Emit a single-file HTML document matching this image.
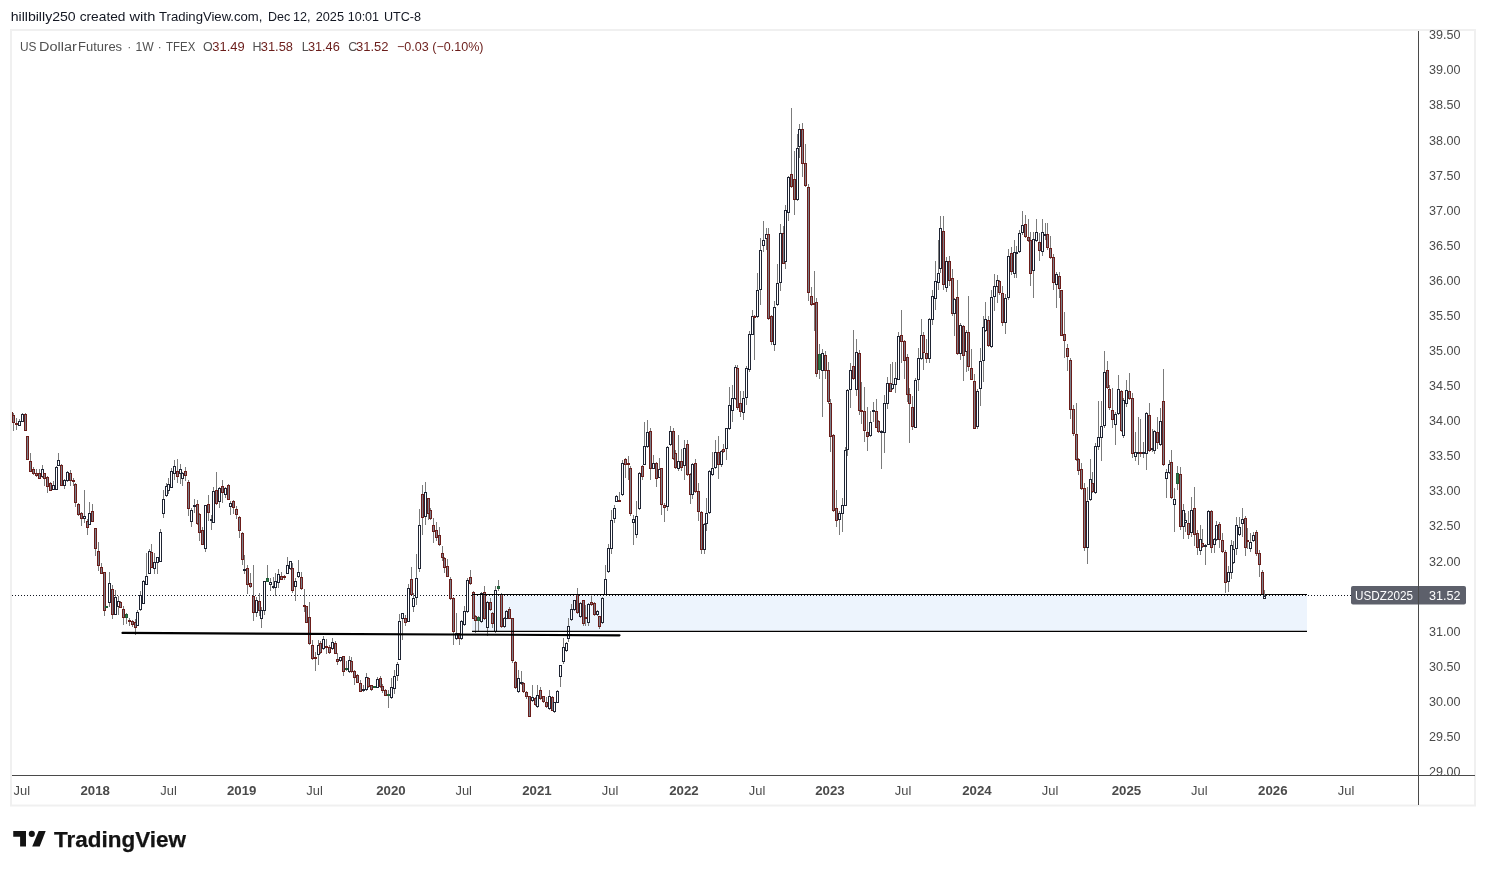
<!DOCTYPE html><html><head><meta charset="utf-8"><style>
html,body{margin:0;padding:0;background:#fff;width:1486px;height:872px;overflow:hidden}
svg{position:absolute;left:0;top:0;display:block;will-change:transform}
text{font-family:"Liberation Sans",sans-serif}
</style></head><body>
<svg width="1486" height="872" viewBox="0 0 1486 872">
<rect x="0" y="0" width="1486" height="872" fill="#ffffff"/>
<text x="10.7" y="21.0" font-size="13" fill="#131722" textLength="65.0" lengthAdjust="spacingAndGlyphs">hillbilly250</text>
<text x="79.7" y="21.0" font-size="13" fill="#131722" textLength="45.8" lengthAdjust="spacingAndGlyphs">created</text>
<text x="129.4" y="21.0" font-size="13" fill="#131722" textLength="26.0" lengthAdjust="spacingAndGlyphs">with</text>
<text x="159.0" y="21.0" font-size="13" fill="#131722" textLength="103.4" lengthAdjust="spacingAndGlyphs">TradingView.com,</text>
<text x="268.1" y="21.0" font-size="13" fill="#131722" textLength="22.2" lengthAdjust="spacingAndGlyphs">Dec</text>
<text x="293.1" y="21.0" font-size="13" fill="#131722" textLength="17.5" lengthAdjust="spacingAndGlyphs">12,</text>
<text x="315.7" y="21.0" font-size="13" fill="#131722" textLength="28.3" lengthAdjust="spacingAndGlyphs">2025</text>
<text x="347.7" y="21.0" font-size="13" fill="#131722" textLength="31.4" lengthAdjust="spacingAndGlyphs">10:01</text>
<text x="383.9" y="21.0" font-size="13" fill="#131722" textLength="37.1" lengthAdjust="spacingAndGlyphs">UTC-8</text>
<rect x="11" y="30" width="1464" height="775.5" fill="none" stroke="#f0f0f0" stroke-width="2"/>
<defs><clipPath id="pane"><rect x="12" y="31" width="1406" height="744"/></clipPath></defs>
<g clip-path="url(#pane)">
<rect x="472" y="596" width="835" height="34.5" fill="#edf4fd"/>
<line x1="12" y1="595.5" x2="1351" y2="595.5" stroke="#131722" stroke-width="1" stroke-dasharray="1 2"/>
<g fill="#7b7b7b" shape-rendering="crispEdges">
<rect x="11" y="411" width="1" height="13"/><rect x="13" y="413" width="1" height="18"/><rect x="16" y="418" width="1" height="12"/><rect x="19" y="419" width="1" height="7"/><rect x="22" y="413" width="1" height="9"/><rect x="25" y="413" width="1" height="18"/><rect x="27" y="436" width="1" height="24"/><rect x="30" y="453" width="1" height="19"/><rect x="33" y="467" width="1" height="8"/><rect x="36" y="469" width="1" height="8"/><rect x="39" y="469" width="1" height="10"/><rect x="42" y="465" width="1" height="13"/><rect x="44" y="473" width="1" height="13"/><rect x="47" y="476" width="1" height="17"/><rect x="50" y="482" width="1" height="9"/><rect x="53" y="481" width="1" height="9"/><rect x="56" y="466" width="1" height="24"/><rect x="58" y="453" width="1" height="13"/><rect x="61" y="464" width="1" height="22"/><rect x="64" y="479" width="1" height="10"/><rect x="67" y="471" width="1" height="11"/><rect x="70" y="470" width="1" height="16"/><rect x="73" y="478" width="1" height="8"/><rect x="75" y="483" width="1" height="24"/><rect x="78" y="503" width="1" height="13"/><rect x="81" y="512" width="1" height="14"/><rect x="84" y="490" width="1" height="33"/><rect x="87" y="519" width="1" height="16"/><rect x="89" y="502" width="1" height="23"/><rect x="92" y="504" width="1" height="18"/><rect x="95" y="528" width="1" height="28"/><rect x="98" y="542" width="1" height="29"/><rect x="101" y="563" width="1" height="11"/><rect x="104" y="572" width="1" height="44"/><rect x="106" y="606" width="1" height="2"/><rect x="109" y="572" width="1" height="35"/><rect x="112" y="585" width="1" height="34"/><rect x="115" y="590" width="1" height="25"/><rect x="118" y="596" width="1" height="19"/><rect x="120" y="601" width="1" height="7"/><rect x="123" y="606" width="1" height="19"/><rect x="126" y="613" width="1" height="11"/><rect x="129" y="618" width="1" height="8"/><rect x="132" y="620" width="1" height="7"/><rect x="135" y="619" width="1" height="16"/><rect x="137" y="610" width="1" height="16"/><rect x="140" y="591" width="1" height="20"/><rect x="143" y="580" width="1" height="24"/><rect x="146" y="553" width="1" height="32"/><rect x="149" y="549" width="1" height="25"/><rect x="151" y="544" width="1" height="24"/><rect x="154" y="553" width="1" height="21"/><rect x="157" y="557" width="1" height="17"/><rect x="160" y="529" width="1" height="33"/><rect x="163" y="490" width="1" height="28"/><rect x="166" y="483" width="1" height="14"/><rect x="168" y="478" width="1" height="16"/><rect x="171" y="468" width="1" height="20"/><rect x="174" y="460" width="1" height="20"/><rect x="177" y="459" width="1" height="24"/><rect x="180" y="464" width="1" height="20"/><rect x="182" y="472" width="1" height="14"/><rect x="185" y="467" width="1" height="14"/><rect x="188" y="480" width="1" height="36"/><rect x="191" y="508" width="1" height="19"/><rect x="194" y="499" width="1" height="14"/><rect x="197" y="500" width="1" height="25"/><rect x="199" y="513" width="1" height="28"/><rect x="202" y="527" width="1" height="18"/><rect x="205" y="505" width="1" height="47"/><rect x="208" y="495" width="1" height="26"/><rect x="211" y="515" width="1" height="15"/><rect x="213" y="487" width="1" height="36"/><rect x="216" y="472" width="1" height="33"/><rect x="219" y="487" width="1" height="21"/><rect x="222" y="480" width="1" height="23"/><rect x="225" y="487" width="1" height="11"/><rect x="228" y="484" width="1" height="16"/><rect x="230" y="501" width="1" height="14"/><rect x="233" y="500" width="1" height="14"/><rect x="236" y="506" width="1" height="13"/><rect x="239" y="516" width="1" height="22"/><rect x="242" y="532" width="1" height="33"/><rect x="244" y="555" width="1" height="19"/><rect x="247" y="565" width="1" height="29"/><rect x="250" y="573" width="1" height="15"/><rect x="253" y="565" width="1" height="56"/><rect x="256" y="597" width="1" height="20"/><rect x="259" y="593" width="1" height="23"/><rect x="261" y="607" width="1" height="21"/><rect x="264" y="581" width="1" height="34"/><rect x="267" y="565" width="1" height="17"/><rect x="270" y="578" width="1" height="13"/><rect x="273" y="577" width="1" height="12"/><rect x="275" y="573" width="1" height="23"/><rect x="278" y="569" width="1" height="19"/><rect x="281" y="572" width="1" height="8"/><rect x="284" y="575" width="1" height="5"/><rect x="287" y="557" width="1" height="17"/><rect x="290" y="561" width="1" height="9"/><rect x="292" y="563" width="1" height="30"/><rect x="295" y="578" width="1" height="23"/><rect x="298" y="560" width="1" height="18"/><rect x="301" y="572" width="1" height="18"/><rect x="304" y="589" width="1" height="23"/><rect x="306" y="606" width="1" height="17"/><rect x="309" y="602" width="1" height="43"/><rect x="312" y="640" width="1" height="20"/><rect x="315" y="652" width="1" height="19"/><rect x="318" y="640" width="1" height="25"/><rect x="320" y="641" width="1" height="13"/><rect x="323" y="636" width="1" height="14"/><rect x="326" y="639" width="1" height="15"/><rect x="329" y="645" width="1" height="9"/><rect x="332" y="638" width="1" height="12"/><rect x="335" y="641" width="1" height="13"/><rect x="337" y="653" width="1" height="12"/><rect x="340" y="657" width="1" height="5"/><rect x="343" y="656" width="1" height="20"/><rect x="346" y="661" width="1" height="10"/><rect x="349" y="656" width="1" height="17"/><rect x="351" y="657" width="1" height="16"/><rect x="354" y="670" width="1" height="15"/><rect x="357" y="674" width="1" height="9"/><rect x="360" y="680" width="1" height="12"/><rect x="363" y="685" width="1" height="7"/><rect x="366" y="673" width="1" height="18"/><rect x="368" y="677" width="1" height="11"/><rect x="371" y="685" width="1" height="6"/><rect x="374" y="686" width="1" height="2"/><rect x="377" y="677" width="1" height="11"/><rect x="380" y="676" width="1" height="12"/><rect x="382" y="684" width="1" height="9"/><rect x="385" y="689" width="1" height="7"/><rect x="388" y="690" width="1" height="18"/><rect x="391" y="678" width="1" height="21"/><rect x="394" y="670" width="1" height="24"/><rect x="397" y="662" width="1" height="19"/><rect x="399" y="614" width="1" height="46"/><rect x="402" y="613" width="1" height="27"/><rect x="405" y="615" width="1" height="11"/><rect x="408" y="584" width="1" height="38"/><rect x="411" y="567" width="1" height="28"/><rect x="413" y="593" width="1" height="19"/><rect x="416" y="554" width="1" height="51"/><rect x="419" y="509" width="1" height="63"/><rect x="422" y="485" width="1" height="50"/><rect x="425" y="482" width="1" height="43"/><rect x="428" y="498" width="1" height="22"/><rect x="430" y="508" width="1" height="12"/><rect x="433" y="518" width="1" height="25"/><rect x="436" y="522" width="1" height="19"/><rect x="439" y="527" width="1" height="19"/><rect x="442" y="546" width="1" height="15"/><rect x="444" y="557" width="1" height="16"/><rect x="447" y="559" width="1" height="18"/><rect x="450" y="577" width="1" height="23"/><rect x="453" y="597" width="1" height="48"/><rect x="456" y="613" width="1" height="27"/><rect x="459" y="633" width="1" height="12"/><rect x="461" y="620" width="1" height="20"/><rect x="464" y="606" width="1" height="20"/><rect x="467" y="578" width="1" height="35"/><rect x="470" y="570" width="1" height="15"/><rect x="473" y="591" width="1" height="28"/><rect x="475" y="615" width="1" height="18"/><rect x="478" y="616" width="1" height="15"/><rect x="481" y="592" width="1" height="31"/><rect x="484" y="586" width="1" height="34"/><rect x="487" y="601" width="1" height="35"/><rect x="490" y="598" width="1" height="13"/><rect x="492" y="612" width="1" height="16"/><rect x="495" y="586" width="1" height="47"/><rect x="498" y="580" width="1" height="11"/><rect x="501" y="593" width="1" height="35"/><rect x="504" y="617" width="1" height="11"/><rect x="506" y="610" width="1" height="9"/><rect x="509" y="607" width="1" height="12"/><rect x="512" y="618" width="1" height="45"/><rect x="515" y="661" width="1" height="28"/><rect x="518" y="670" width="1" height="23"/><rect x="521" y="671" width="1" height="14"/><rect x="523" y="682" width="1" height="11"/><rect x="526" y="691" width="1" height="8"/><rect x="529" y="696" width="1" height="21"/><rect x="532" y="685" width="1" height="17"/><rect x="535" y="697" width="1" height="9"/><rect x="537" y="685" width="1" height="23"/><rect x="540" y="687" width="1" height="13"/><rect x="543" y="696" width="1" height="7"/><rect x="546" y="697" width="1" height="11"/><rect x="549" y="690" width="1" height="20"/><rect x="552" y="696" width="1" height="15"/><rect x="554" y="702" width="1" height="11"/><rect x="557" y="690" width="1" height="13"/><rect x="560" y="665" width="1" height="22"/><rect x="563" y="638" width="1" height="26"/><rect x="566" y="642" width="1" height="10"/><rect x="568" y="618" width="1" height="24"/><rect x="571" y="604" width="1" height="17"/><rect x="574" y="600" width="1" height="11"/><rect x="577" y="588" width="1" height="26"/><rect x="580" y="602" width="1" height="16"/><rect x="583" y="600" width="1" height="26"/><rect x="585" y="605" width="1" height="21"/><rect x="588" y="603" width="1" height="23"/><rect x="591" y="594" width="1" height="12"/><rect x="594" y="602" width="1" height="14"/><rect x="597" y="610" width="1" height="6"/><rect x="599" y="616" width="1" height="13"/><rect x="602" y="597" width="1" height="27"/><rect x="605" y="565" width="1" height="30"/><rect x="608" y="544" width="1" height="29"/><rect x="611" y="510" width="1" height="44"/><rect x="614" y="505" width="1" height="18"/><rect x="616" y="495" width="1" height="7"/><rect x="619" y="492" width="1" height="10"/><rect x="622" y="460" width="1" height="36"/><rect x="625" y="458" width="1" height="20"/><rect x="628" y="456" width="1" height="24"/><rect x="630" y="466" width="1" height="50"/><rect x="633" y="515" width="1" height="30"/><rect x="636" y="501" width="1" height="37"/><rect x="639" y="472" width="1" height="38"/><rect x="642" y="465" width="1" height="15"/><rect x="644" y="422" width="1" height="43"/><rect x="647" y="420" width="1" height="28"/><rect x="650" y="428" width="1" height="52"/><rect x="653" y="455" width="1" height="14"/><rect x="656" y="462" width="1" height="25"/><rect x="659" y="458" width="1" height="20"/><rect x="661" y="468" width="1" height="47"/><rect x="664" y="503" width="1" height="19"/><rect x="667" y="446" width="1" height="65"/><rect x="670" y="426" width="1" height="20"/><rect x="673" y="428" width="1" height="32"/><rect x="675" y="450" width="1" height="19"/><rect x="678" y="435" width="1" height="36"/><rect x="681" y="449" width="1" height="22"/><rect x="684" y="440" width="1" height="40"/><rect x="687" y="440" width="1" height="36"/><rect x="690" y="473" width="1" height="31"/><rect x="692" y="463" width="1" height="36"/><rect x="695" y="459" width="1" height="34"/><rect x="698" y="483" width="1" height="38"/><rect x="701" y="511" width="1" height="43"/><rect x="704" y="523" width="1" height="31"/><rect x="706" y="498" width="1" height="33"/><rect x="709" y="470" width="1" height="44"/><rect x="712" y="452" width="1" height="24"/><rect x="715" y="440" width="1" height="29"/><rect x="718" y="436" width="1" height="43"/><rect x="721" y="450" width="1" height="17"/><rect x="723" y="444" width="1" height="9"/><rect x="726" y="428" width="1" height="32"/><rect x="729" y="387" width="1" height="43"/><rect x="732" y="385" width="1" height="37"/><rect x="735" y="365" width="1" height="35"/><rect x="737" y="365" width="1" height="45"/><rect x="740" y="391" width="1" height="26"/><rect x="743" y="391" width="1" height="29"/><rect x="746" y="366" width="1" height="39"/><rect x="749" y="331" width="1" height="41"/><rect x="752" y="310" width="1" height="25"/><rect x="754" y="315" width="1" height="45"/><rect x="757" y="273" width="1" height="45"/><rect x="760" y="238" width="1" height="67"/><rect x="763" y="221" width="1" height="31"/><rect x="766" y="228" width="1" height="22"/><rect x="768" y="228" width="1" height="92"/><rect x="771" y="315" width="1" height="30"/><rect x="774" y="301" width="1" height="50"/><rect x="777" y="264" width="1" height="42"/><rect x="780" y="224" width="1" height="67"/><rect x="783" y="226" width="1" height="38"/><rect x="785" y="205" width="1" height="64"/><rect x="788" y="176" width="1" height="45"/><rect x="791" y="108" width="1" height="80"/><rect x="794" y="151" width="1" height="64"/><rect x="797" y="134" width="1" height="67"/><rect x="799" y="124" width="1" height="34"/><rect x="802" y="123" width="1" height="54"/><rect x="805" y="144" width="1" height="43"/><rect x="808" y="184" width="1" height="117"/><rect x="811" y="287" width="1" height="19"/><rect x="814" y="271" width="1" height="60"/><rect x="816" y="298" width="1" height="79"/><rect x="819" y="344" width="1" height="35"/><rect x="822" y="349" width="1" height="68"/><rect x="825" y="351" width="1" height="28"/><rect x="828" y="362" width="1" height="42"/><rect x="830" y="399" width="1" height="53"/><rect x="833" y="434" width="1" height="78"/><rect x="836" y="490" width="1" height="37"/><rect x="839" y="511" width="1" height="24"/><rect x="842" y="498" width="1" height="34"/><rect x="845" y="447" width="1" height="59"/><rect x="847" y="389" width="1" height="67"/><rect x="850" y="363" width="1" height="45"/><rect x="853" y="330" width="1" height="50"/><rect x="856" y="339" width="1" height="57"/><rect x="859" y="350" width="1" height="65"/><rect x="861" y="382" width="1" height="42"/><rect x="864" y="387" width="1" height="55"/><rect x="867" y="407" width="1" height="44"/><rect x="870" y="411" width="1" height="26"/><rect x="873" y="402" width="1" height="20"/><rect x="876" y="399" width="1" height="29"/><rect x="878" y="420" width="1" height="13"/><rect x="881" y="430" width="1" height="39"/><rect x="884" y="395" width="1" height="58"/><rect x="887" y="377" width="1" height="32"/><rect x="890" y="364" width="1" height="28"/><rect x="892" y="362" width="1" height="28"/><rect x="895" y="362" width="1" height="31"/><rect x="898" y="332" width="1" height="48"/><rect x="901" y="310" width="1" height="53"/><rect x="904" y="340" width="1" height="39"/><rect x="907" y="354" width="1" height="48"/><rect x="909" y="388" width="1" height="55"/><rect x="912" y="396" width="1" height="34"/><rect x="915" y="378" width="1" height="50"/><rect x="918" y="348" width="1" height="43"/><rect x="921" y="319" width="1" height="41"/><rect x="923" y="332" width="1" height="38"/><rect x="926" y="339" width="1" height="24"/><rect x="929" y="318" width="1" height="45"/><rect x="932" y="290" width="1" height="35"/><rect x="935" y="261" width="1" height="49"/><rect x="938" y="240" width="1" height="50"/><rect x="940" y="216" width="1" height="57"/><rect x="943" y="216" width="1" height="74"/><rect x="946" y="257" width="1" height="35"/><rect x="949" y="256" width="1" height="30"/><rect x="952" y="269" width="1" height="47"/><rect x="954" y="298" width="1" height="38"/><rect x="957" y="280" width="1" height="75"/><rect x="960" y="323" width="1" height="37"/><rect x="963" y="325" width="1" height="56"/><rect x="966" y="330" width="1" height="42"/><rect x="968" y="296" width="1" height="75"/><rect x="971" y="349" width="1" height="31"/><rect x="974" y="374" width="1" height="55"/><rect x="977" y="389" width="1" height="40"/><rect x="980" y="348" width="1" height="58"/><rect x="983" y="316" width="1" height="66"/><rect x="985" y="302" width="1" height="30"/><rect x="988" y="316" width="1" height="31"/><rect x="991" y="290" width="1" height="58"/><rect x="994" y="274" width="1" height="37"/><rect x="997" y="275" width="1" height="28"/><rect x="999" y="280" width="1" height="15"/><rect x="1002" y="286" width="1" height="40"/><rect x="1005" y="294" width="1" height="40"/><rect x="1008" y="249" width="1" height="51"/><rect x="1011" y="247" width="1" height="28"/><rect x="1014" y="240" width="1" height="38"/><rect x="1016" y="246" width="1" height="32"/><rect x="1019" y="230" width="1" height="23"/><rect x="1022" y="211" width="1" height="24"/><rect x="1025" y="215" width="1" height="23"/><rect x="1028" y="219" width="1" height="23"/><rect x="1030" y="232" width="1" height="54"/><rect x="1033" y="232" width="1" height="66"/><rect x="1036" y="219" width="1" height="23"/><rect x="1039" y="233" width="1" height="28"/><rect x="1042" y="219" width="1" height="37"/><rect x="1045" y="223" width="1" height="17"/><rect x="1047" y="223" width="1" height="27"/><rect x="1050" y="236" width="1" height="23"/><rect x="1053" y="254" width="1" height="36"/><rect x="1056" y="272" width="1" height="36"/><rect x="1059" y="272" width="1" height="26"/><rect x="1061" y="290" width="1" height="46"/><rect x="1064" y="312" width="1" height="46"/><rect x="1067" y="344" width="1" height="27"/><rect x="1070" y="358" width="1" height="61"/><rect x="1073" y="405" width="1" height="31"/><rect x="1076" y="403" width="1" height="58"/><rect x="1078" y="458" width="1" height="17"/><rect x="1081" y="463" width="1" height="27"/><rect x="1084" y="483" width="1" height="68"/><rect x="1087" y="487" width="1" height="77"/><rect x="1090" y="459" width="1" height="42"/><rect x="1092" y="472" width="1" height="21"/><rect x="1095" y="443" width="1" height="51"/><rect x="1098" y="401" width="1" height="49"/><rect x="1101" y="401" width="1" height="60"/><rect x="1104" y="351" width="1" height="77"/><rect x="1107" y="361" width="1" height="28"/><rect x="1109" y="385" width="1" height="25"/><rect x="1112" y="388" width="1" height="40"/><rect x="1115" y="412" width="1" height="33"/><rect x="1118" y="375" width="1" height="40"/><rect x="1121" y="390" width="1" height="42"/><rect x="1123" y="398" width="1" height="40"/><rect x="1126" y="380" width="1" height="27"/><rect x="1129" y="373" width="1" height="27"/><rect x="1132" y="393" width="1" height="65"/><rect x="1135" y="432" width="1" height="29"/><rect x="1138" y="417" width="1" height="48"/><rect x="1140" y="419" width="1" height="38"/><rect x="1143" y="442" width="1" height="16"/><rect x="1146" y="412" width="1" height="58"/><rect x="1149" y="403" width="1" height="49"/><rect x="1152" y="429" width="1" height="23"/><rect x="1154" y="430" width="1" height="24"/><rect x="1157" y="417" width="1" height="32"/><rect x="1160" y="408" width="1" height="38"/><rect x="1163" y="369" width="1" height="97"/><rect x="1166" y="469" width="1" height="29"/><rect x="1169" y="460" width="1" height="14"/><rect x="1171" y="450" width="1" height="49"/><rect x="1174" y="488" width="1" height="44"/><rect x="1177" y="466" width="1" height="24"/><rect x="1180" y="467" width="1" height="63"/><rect x="1183" y="504" width="1" height="35"/><rect x="1185" y="513" width="1" height="19"/><rect x="1188" y="511" width="1" height="28"/><rect x="1191" y="497" width="1" height="40"/><rect x="1194" y="487" width="1" height="59"/><rect x="1197" y="530" width="1" height="25"/><rect x="1200" y="525" width="1" height="30"/><rect x="1202" y="529" width="1" height="19"/><rect x="1205" y="544" width="1" height="21"/><rect x="1208" y="510" width="1" height="35"/><rect x="1211" y="510" width="1" height="43"/><rect x="1214" y="538" width="1" height="15"/><rect x="1216" y="521" width="1" height="20"/><rect x="1219" y="522" width="1" height="26"/><rect x="1222" y="533" width="1" height="20"/><rect x="1225" y="550" width="1" height="43"/><rect x="1228" y="566" width="1" height="26"/><rect x="1231" y="540" width="1" height="39"/><rect x="1233" y="541" width="1" height="23"/><rect x="1236" y="517" width="1" height="38"/><rect x="1239" y="517" width="1" height="19"/><rect x="1242" y="508" width="1" height="29"/><rect x="1245" y="516" width="1" height="40"/><rect x="1247" y="528" width="1" height="21"/><rect x="1250" y="533" width="1" height="19"/><rect x="1253" y="532" width="1" height="10"/><rect x="1256" y="530" width="1" height="26"/><rect x="1259" y="550" width="1" height="27"/><rect x="1262" y="570" width="1" height="25"/><rect x="1264" y="590" width="1" height="9"/>
</g><g shape-rendering="crispEdges">
<rect x="10" y="412" width="3" height="5" fill="#6b1d1a"/><rect x="11" y="413" width="1" height="3" fill="#7b818b"/><rect x="12" y="415" width="3" height="8" fill="#6b1d1a"/><rect x="13" y="416" width="1" height="6" fill="#7b818b"/><rect x="15" y="423" width="3" height="2" fill="#6b1d1a"/><rect x="18" y="421" width="3" height="5" fill="#1f2433"/><rect x="19" y="422" width="1" height="3" fill="#ffffff"/><rect x="21" y="414" width="3" height="8" fill="#1f2433"/><rect x="22" y="415" width="1" height="6" fill="#ffffff"/><rect x="24" y="414" width="3" height="17" fill="#6b1d1a"/><rect x="25" y="415" width="1" height="15" fill="#7b818b"/><rect x="26" y="436" width="3" height="24" fill="#6b1d1a"/><rect x="27" y="437" width="1" height="22" fill="#7b818b"/><rect x="29" y="461" width="3" height="11" fill="#6b1d1a"/><rect x="30" y="462" width="1" height="9" fill="#7b818b"/><rect x="32" y="469" width="3" height="5" fill="#6b1d1a"/><rect x="33" y="470" width="1" height="3" fill="#7b818b"/><rect x="35" y="473" width="3" height="3" fill="#6b1d1a"/><rect x="36" y="474" width="1" height="1" fill="#7b818b"/><rect x="38" y="473" width="3" height="6" fill="#6b1d1a"/><rect x="39" y="474" width="1" height="4" fill="#7b818b"/><rect x="41" y="469" width="3" height="8" fill="#1f2433"/><rect x="42" y="470" width="1" height="6" fill="#ffffff"/><rect x="43" y="473" width="3" height="6" fill="#6b1d1a"/><rect x="44" y="474" width="1" height="4" fill="#7b818b"/><rect x="46" y="477" width="3" height="10" fill="#6b1d1a"/><rect x="47" y="478" width="1" height="8" fill="#7b818b"/><rect x="49" y="483" width="3" height="8" fill="#6b1d1a"/><rect x="50" y="484" width="1" height="6" fill="#7b818b"/><rect x="52" y="485" width="3" height="5" fill="#1f2433"/><rect x="53" y="486" width="1" height="3" fill="#ffffff"/><rect x="55" y="467" width="3" height="23" fill="#1f2433"/><rect x="56" y="468" width="1" height="21" fill="#ffffff"/><rect x="57" y="460" width="3" height="6" fill="#1f2433"/><rect x="58" y="461" width="1" height="4" fill="#ffffff"/><rect x="60" y="465" width="3" height="21" fill="#6b1d1a"/><rect x="61" y="466" width="1" height="19" fill="#7b818b"/><rect x="63" y="480" width="3" height="6" fill="#1f2433"/><rect x="64" y="481" width="1" height="4" fill="#ffffff"/><rect x="66" y="472" width="3" height="9" fill="#1f2433"/><rect x="67" y="473" width="1" height="7" fill="#ffffff"/><rect x="69" y="473" width="3" height="8" fill="#6b1d1a"/><rect x="70" y="474" width="1" height="6" fill="#7b818b"/><rect x="72" y="480" width="3" height="2" fill="#6b1d1a"/><rect x="74" y="484" width="3" height="19" fill="#6b1d1a"/><rect x="75" y="485" width="1" height="17" fill="#7b818b"/><rect x="77" y="504" width="3" height="11" fill="#6b1d1a"/><rect x="78" y="505" width="1" height="9" fill="#7b818b"/><rect x="80" y="513" width="3" height="6" fill="#6b1d1a"/><rect x="81" y="514" width="1" height="4" fill="#7b818b"/><rect x="83" y="516" width="3" height="3" fill="#1f2433"/><rect x="84" y="517" width="1" height="1" fill="#ffffff"/><rect x="86" y="521" width="3" height="7" fill="#6b1d1a"/><rect x="87" y="522" width="1" height="5" fill="#7b818b"/><rect x="88" y="513" width="3" height="12" fill="#1f2433"/><rect x="89" y="514" width="1" height="10" fill="#ffffff"/><rect x="91" y="511" width="3" height="11" fill="#6b1d1a"/><rect x="92" y="512" width="1" height="9" fill="#7b818b"/><rect x="94" y="528" width="3" height="21" fill="#6b1d1a"/><rect x="95" y="529" width="1" height="19" fill="#7b818b"/><rect x="97" y="551" width="3" height="15" fill="#6b1d1a"/><rect x="98" y="552" width="1" height="13" fill="#7b818b"/><rect x="100" y="567" width="3" height="7" fill="#6b1d1a"/><rect x="101" y="568" width="1" height="5" fill="#7b818b"/><rect x="103" y="572" width="3" height="39" fill="#6b1d1a"/><rect x="104" y="573" width="1" height="37" fill="#7b818b"/><rect x="105" y="606" width="3" height="2" fill="#1f5c36"/><rect x="108" y="583" width="3" height="20" fill="#1f2433"/><rect x="109" y="584" width="1" height="18" fill="#ffffff"/><rect x="111" y="589" width="3" height="26" fill="#6b1d1a"/><rect x="112" y="590" width="1" height="24" fill="#7b818b"/><rect x="114" y="597" width="3" height="18" fill="#1f2433"/><rect x="115" y="598" width="1" height="16" fill="#ffffff"/><rect x="117" y="601" width="3" height="6" fill="#1f2433"/><rect x="118" y="602" width="1" height="4" fill="#ffffff"/><rect x="119" y="602" width="3" height="6" fill="#6b1d1a"/><rect x="120" y="603" width="1" height="4" fill="#7b818b"/><rect x="122" y="609" width="3" height="9" fill="#6b1d1a"/><rect x="123" y="610" width="1" height="7" fill="#7b818b"/><rect x="125" y="614" width="3" height="4" fill="#1f5c36"/><rect x="126" y="615" width="1" height="2" fill="#2f7a4a"/><rect x="128" y="620" width="3" height="2" fill="#6b1d1a"/><rect x="131" y="621" width="3" height="4" fill="#6b1d1a"/><rect x="132" y="622" width="1" height="2" fill="#7b818b"/><rect x="134" y="622" width="3" height="6" fill="#6b1d1a"/><rect x="135" y="623" width="1" height="4" fill="#7b818b"/><rect x="136" y="612" width="3" height="14" fill="#1f2433"/><rect x="137" y="613" width="1" height="12" fill="#ffffff"/><rect x="139" y="595" width="3" height="15" fill="#1f2433"/><rect x="140" y="596" width="1" height="13" fill="#ffffff"/><rect x="142" y="581" width="3" height="23" fill="#1f2433"/><rect x="143" y="582" width="1" height="21" fill="#ffffff"/><rect x="145" y="576" width="3" height="9" fill="#1f2433"/><rect x="146" y="577" width="1" height="7" fill="#ffffff"/><rect x="148" y="551" width="3" height="23" fill="#1f2433"/><rect x="149" y="552" width="1" height="21" fill="#ffffff"/><rect x="150" y="552" width="3" height="16" fill="#6b1d1a"/><rect x="151" y="553" width="1" height="14" fill="#7b818b"/><rect x="153" y="562" width="3" height="7" fill="#1f2433"/><rect x="154" y="563" width="1" height="5" fill="#ffffff"/><rect x="156" y="557" width="3" height="6" fill="#1f2433"/><rect x="157" y="558" width="1" height="4" fill="#ffffff"/><rect x="159" y="532" width="3" height="30" fill="#1f2433"/><rect x="160" y="533" width="1" height="28" fill="#ffffff"/><rect x="162" y="499" width="3" height="15" fill="#1f2433"/><rect x="163" y="500" width="1" height="13" fill="#ffffff"/><rect x="165" y="486" width="3" height="10" fill="#1f2433"/><rect x="166" y="487" width="1" height="8" fill="#ffffff"/><rect x="167" y="484" width="3" height="7" fill="#1f2433"/><rect x="168" y="485" width="1" height="5" fill="#ffffff"/><rect x="170" y="471" width="3" height="17" fill="#1f2433"/><rect x="171" y="472" width="1" height="15" fill="#ffffff"/><rect x="173" y="466" width="3" height="8" fill="#1f2433"/><rect x="174" y="467" width="1" height="6" fill="#ffffff"/><rect x="176" y="471" width="3" height="6" fill="#6b1d1a"/><rect x="177" y="472" width="1" height="4" fill="#7b818b"/><rect x="179" y="469" width="3" height="5" fill="#1f2433"/><rect x="180" y="470" width="1" height="3" fill="#ffffff"/><rect x="181" y="473" width="3" height="6" fill="#1f2433"/><rect x="182" y="474" width="1" height="4" fill="#ffffff"/><rect x="184" y="471" width="3" height="5" fill="#6b1d1a"/><rect x="185" y="472" width="1" height="3" fill="#7b818b"/><rect x="187" y="482" width="3" height="27" fill="#6b1d1a"/><rect x="188" y="483" width="1" height="25" fill="#7b818b"/><rect x="190" y="510" width="3" height="12" fill="#1f2433"/><rect x="191" y="511" width="1" height="10" fill="#ffffff"/><rect x="193" y="505" width="3" height="2" fill="#1f2433"/><rect x="196" y="504" width="3" height="20" fill="#6b1d1a"/><rect x="197" y="505" width="1" height="18" fill="#7b818b"/><rect x="198" y="514" width="3" height="19" fill="#6b1d1a"/><rect x="199" y="515" width="1" height="17" fill="#7b818b"/><rect x="201" y="530" width="3" height="15" fill="#6b1d1a"/><rect x="202" y="531" width="1" height="13" fill="#7b818b"/><rect x="204" y="505" width="3" height="44" fill="#1f2433"/><rect x="205" y="506" width="1" height="42" fill="#ffffff"/><rect x="207" y="504" width="3" height="9" fill="#6b1d1a"/><rect x="208" y="505" width="1" height="7" fill="#7b818b"/><rect x="210" y="519" width="3" height="2" fill="#1f2433"/><rect x="212" y="491" width="3" height="32" fill="#1f2433"/><rect x="213" y="492" width="1" height="30" fill="#ffffff"/><rect x="215" y="490" width="3" height="14" fill="#6b1d1a"/><rect x="216" y="491" width="1" height="12" fill="#7b818b"/><rect x="218" y="488" width="3" height="14" fill="#1f2433"/><rect x="219" y="489" width="1" height="12" fill="#ffffff"/><rect x="221" y="486" width="3" height="7" fill="#6b1d1a"/><rect x="222" y="487" width="1" height="5" fill="#7b818b"/><rect x="224" y="488" width="3" height="7" fill="#1f2433"/><rect x="225" y="489" width="1" height="5" fill="#ffffff"/><rect x="227" y="485" width="3" height="15" fill="#6b1d1a"/><rect x="228" y="486" width="1" height="13" fill="#7b818b"/><rect x="229" y="503" width="3" height="4" fill="#1f2433"/><rect x="230" y="504" width="1" height="2" fill="#ffffff"/><rect x="232" y="501" width="3" height="7" fill="#6b1d1a"/><rect x="233" y="502" width="1" height="5" fill="#7b818b"/><rect x="235" y="509" width="3" height="6" fill="#6b1d1a"/><rect x="236" y="510" width="1" height="4" fill="#7b818b"/><rect x="238" y="517" width="3" height="14" fill="#6b1d1a"/><rect x="239" y="518" width="1" height="12" fill="#7b818b"/><rect x="241" y="533" width="3" height="27" fill="#6b1d1a"/><rect x="242" y="534" width="1" height="25" fill="#7b818b"/><rect x="243" y="569" width="3" height="2" fill="#1f2433"/><rect x="246" y="568" width="3" height="17" fill="#6b1d1a"/><rect x="247" y="569" width="1" height="15" fill="#7b818b"/><rect x="249" y="583" width="3" height="4" fill="#6b1d1a"/><rect x="250" y="584" width="1" height="2" fill="#7b818b"/><rect x="252" y="596" width="3" height="17" fill="#6b1d1a"/><rect x="253" y="597" width="1" height="15" fill="#7b818b"/><rect x="255" y="600" width="3" height="13" fill="#1f2433"/><rect x="256" y="601" width="1" height="11" fill="#ffffff"/><rect x="258" y="601" width="3" height="10" fill="#6b1d1a"/><rect x="259" y="602" width="1" height="8" fill="#7b818b"/><rect x="260" y="610" width="3" height="9" fill="#1f2433"/><rect x="261" y="611" width="1" height="7" fill="#ffffff"/><rect x="263" y="581" width="3" height="30" fill="#1f2433"/><rect x="264" y="582" width="1" height="28" fill="#ffffff"/><rect x="266" y="578" width="3" height="4" fill="#1f5c36"/><rect x="267" y="579" width="1" height="2" fill="#2f7a4a"/><rect x="269" y="582" width="3" height="3" fill="#1f2433"/><rect x="270" y="583" width="1" height="1" fill="#ffffff"/><rect x="272" y="586" width="3" height="2" fill="#1f2433"/><rect x="274" y="581" width="3" height="7" fill="#1f2433"/><rect x="275" y="582" width="1" height="5" fill="#ffffff"/><rect x="277" y="574" width="3" height="9" fill="#1f2433"/><rect x="278" y="575" width="1" height="7" fill="#ffffff"/><rect x="280" y="576" width="3" height="4" fill="#6b1d1a"/><rect x="281" y="577" width="1" height="2" fill="#7b818b"/><rect x="283" y="576" width="3" height="2" fill="#6b1d1a"/><rect x="286" y="565" width="3" height="9" fill="#1f2433"/><rect x="287" y="566" width="1" height="7" fill="#ffffff"/><rect x="289" y="561" width="3" height="8" fill="#1f2433"/><rect x="290" y="562" width="1" height="6" fill="#ffffff"/><rect x="291" y="568" width="3" height="23" fill="#6b1d1a"/><rect x="292" y="569" width="1" height="21" fill="#7b818b"/><rect x="294" y="581" width="3" height="6" fill="#1f2433"/><rect x="295" y="582" width="1" height="4" fill="#ffffff"/><rect x="297" y="572" width="3" height="5" fill="#1f2433"/><rect x="298" y="573" width="1" height="3" fill="#ffffff"/><rect x="300" y="577" width="3" height="12" fill="#6b1d1a"/><rect x="301" y="578" width="1" height="10" fill="#7b818b"/><rect x="303" y="605" width="3" height="2" fill="#6b1d1a"/><rect x="305" y="606" width="3" height="17" fill="#6b1d1a"/><rect x="306" y="607" width="1" height="15" fill="#7b818b"/><rect x="308" y="617" width="3" height="27" fill="#6b1d1a"/><rect x="309" y="618" width="1" height="25" fill="#7b818b"/><rect x="311" y="645" width="3" height="14" fill="#6b1d1a"/><rect x="312" y="646" width="1" height="12" fill="#7b818b"/><rect x="314" y="657" width="3" height="2" fill="#6b1d1a"/><rect x="317" y="645" width="3" height="10" fill="#1f2433"/><rect x="318" y="646" width="1" height="8" fill="#ffffff"/><rect x="319" y="643" width="3" height="10" fill="#6b1d1a"/><rect x="320" y="644" width="1" height="8" fill="#7b818b"/><rect x="322" y="639" width="3" height="10" fill="#1f2433"/><rect x="323" y="640" width="1" height="8" fill="#ffffff"/><rect x="325" y="646" width="3" height="2" fill="#6b1d1a"/><rect x="328" y="647" width="3" height="6" fill="#6b1d1a"/><rect x="329" y="648" width="1" height="4" fill="#7b818b"/><rect x="331" y="642" width="3" height="7" fill="#1f2433"/><rect x="332" y="643" width="1" height="5" fill="#ffffff"/><rect x="334" y="643" width="3" height="11" fill="#6b1d1a"/><rect x="335" y="644" width="1" height="9" fill="#7b818b"/><rect x="336" y="659" width="3" height="3" fill="#6b1d1a"/><rect x="337" y="660" width="1" height="1" fill="#7b818b"/><rect x="339" y="657" width="3" height="4" fill="#1f2433"/><rect x="340" y="658" width="1" height="2" fill="#ffffff"/><rect x="342" y="656" width="3" height="16" fill="#6b1d1a"/><rect x="343" y="657" width="1" height="14" fill="#7b818b"/><rect x="345" y="668" width="3" height="2" fill="#1f5c36"/><rect x="348" y="660" width="3" height="12" fill="#1f2433"/><rect x="349" y="661" width="1" height="10" fill="#ffffff"/><rect x="350" y="661" width="3" height="11" fill="#6b1d1a"/><rect x="351" y="662" width="1" height="9" fill="#7b818b"/><rect x="353" y="671" width="3" height="7" fill="#6b1d1a"/><rect x="354" y="672" width="1" height="5" fill="#7b818b"/><rect x="356" y="675" width="3" height="8" fill="#6b1d1a"/><rect x="357" y="676" width="1" height="6" fill="#7b818b"/><rect x="359" y="683" width="3" height="9" fill="#6b1d1a"/><rect x="360" y="684" width="1" height="7" fill="#7b818b"/><rect x="362" y="689" width="3" height="2" fill="#1f2433"/><rect x="365" y="677" width="3" height="13" fill="#1f2433"/><rect x="366" y="678" width="1" height="11" fill="#ffffff"/><rect x="367" y="678" width="3" height="9" fill="#6b1d1a"/><rect x="368" y="679" width="1" height="7" fill="#7b818b"/><rect x="370" y="685" width="3" height="5" fill="#6b1d1a"/><rect x="371" y="686" width="1" height="3" fill="#7b818b"/><rect x="373" y="686" width="3" height="2" fill="#1f5c36"/><rect x="376" y="679" width="3" height="9" fill="#1f2433"/><rect x="377" y="680" width="1" height="7" fill="#ffffff"/><rect x="379" y="678" width="3" height="9" fill="#6b1d1a"/><rect x="380" y="679" width="1" height="7" fill="#7b818b"/><rect x="381" y="686" width="3" height="5" fill="#6b1d1a"/><rect x="382" y="687" width="1" height="3" fill="#7b818b"/><rect x="384" y="690" width="3" height="6" fill="#6b1d1a"/><rect x="385" y="691" width="1" height="4" fill="#7b818b"/><rect x="387" y="694" width="3" height="2" fill="#1f5c36"/><rect x="390" y="687" width="3" height="11" fill="#1f2433"/><rect x="391" y="688" width="1" height="9" fill="#ffffff"/><rect x="393" y="676" width="3" height="13" fill="#1f2433"/><rect x="394" y="677" width="1" height="11" fill="#ffffff"/><rect x="396" y="664" width="3" height="12" fill="#1f2433"/><rect x="397" y="665" width="1" height="10" fill="#ffffff"/><rect x="398" y="621" width="3" height="39" fill="#1f2433"/><rect x="399" y="622" width="1" height="37" fill="#ffffff"/><rect x="401" y="613" width="3" height="6" fill="#1f2433"/><rect x="402" y="614" width="1" height="4" fill="#ffffff"/><rect x="404" y="618" width="3" height="5" fill="#6b1d1a"/><rect x="405" y="619" width="1" height="3" fill="#7b818b"/><rect x="407" y="588" width="3" height="34" fill="#1f2433"/><rect x="408" y="589" width="1" height="32" fill="#ffffff"/><rect x="410" y="579" width="3" height="16" fill="#6b1d1a"/><rect x="411" y="580" width="1" height="14" fill="#7b818b"/><rect x="412" y="598" width="3" height="9" fill="#1f2433"/><rect x="413" y="599" width="1" height="7" fill="#ffffff"/><rect x="415" y="578" width="3" height="20" fill="#1f2433"/><rect x="416" y="579" width="1" height="18" fill="#ffffff"/><rect x="418" y="525" width="3" height="44" fill="#1f2433"/><rect x="419" y="526" width="1" height="42" fill="#ffffff"/><rect x="421" y="494" width="3" height="24" fill="#6b1d1a"/><rect x="422" y="495" width="1" height="22" fill="#7b818b"/><rect x="424" y="492" width="3" height="25" fill="#1f2433"/><rect x="425" y="493" width="1" height="23" fill="#ffffff"/><rect x="427" y="498" width="3" height="16" fill="#6b1d1a"/><rect x="428" y="499" width="1" height="14" fill="#7b818b"/><rect x="429" y="510" width="3" height="9" fill="#6b1d1a"/><rect x="430" y="511" width="1" height="7" fill="#7b818b"/><rect x="432" y="525" width="3" height="7" fill="#6b1d1a"/><rect x="433" y="526" width="1" height="5" fill="#7b818b"/><rect x="435" y="530" width="3" height="8" fill="#6b1d1a"/><rect x="436" y="531" width="1" height="6" fill="#7b818b"/><rect x="438" y="535" width="3" height="10" fill="#6b1d1a"/><rect x="439" y="536" width="1" height="8" fill="#7b818b"/><rect x="441" y="553" width="3" height="5" fill="#6b1d1a"/><rect x="442" y="554" width="1" height="3" fill="#7b818b"/><rect x="443" y="558" width="3" height="10" fill="#6b1d1a"/><rect x="444" y="559" width="1" height="8" fill="#7b818b"/><rect x="446" y="566" width="3" height="11" fill="#6b1d1a"/><rect x="447" y="567" width="1" height="9" fill="#7b818b"/><rect x="449" y="579" width="3" height="20" fill="#6b1d1a"/><rect x="450" y="580" width="1" height="18" fill="#7b818b"/><rect x="452" y="598" width="3" height="34" fill="#6b1d1a"/><rect x="453" y="599" width="1" height="32" fill="#7b818b"/><rect x="455" y="633" width="3" height="6" fill="#1f2433"/><rect x="456" y="634" width="1" height="4" fill="#ffffff"/><rect x="458" y="633" width="3" height="6" fill="#6b1d1a"/><rect x="459" y="634" width="1" height="4" fill="#7b818b"/><rect x="460" y="621" width="3" height="18" fill="#1f2433"/><rect x="461" y="622" width="1" height="16" fill="#ffffff"/><rect x="463" y="611" width="3" height="14" fill="#1f2433"/><rect x="464" y="612" width="1" height="12" fill="#ffffff"/><rect x="466" y="580" width="3" height="32" fill="#1f2433"/><rect x="467" y="581" width="1" height="30" fill="#ffffff"/><rect x="469" y="577" width="3" height="7" fill="#6b1d1a"/><rect x="470" y="578" width="1" height="5" fill="#7b818b"/><rect x="472" y="592" width="3" height="27" fill="#6b1d1a"/><rect x="473" y="593" width="1" height="25" fill="#7b818b"/><rect x="474" y="616" width="3" height="5" fill="#6b1d1a"/><rect x="475" y="617" width="1" height="3" fill="#7b818b"/><rect x="477" y="617" width="3" height="4" fill="#1f5c36"/><rect x="478" y="618" width="1" height="2" fill="#2f7a4a"/><rect x="480" y="593" width="3" height="29" fill="#1f2433"/><rect x="481" y="594" width="1" height="27" fill="#ffffff"/><rect x="483" y="592" width="3" height="27" fill="#6b1d1a"/><rect x="484" y="593" width="1" height="25" fill="#7b818b"/><rect x="486" y="602" width="3" height="26" fill="#1f2433"/><rect x="487" y="603" width="1" height="24" fill="#ffffff"/><rect x="489" y="602" width="3" height="8" fill="#6b1d1a"/><rect x="490" y="603" width="1" height="6" fill="#7b818b"/><rect x="491" y="613" width="3" height="11" fill="#6b1d1a"/><rect x="492" y="614" width="1" height="9" fill="#7b818b"/><rect x="494" y="590" width="3" height="42" fill="#1f2433"/><rect x="495" y="591" width="1" height="40" fill="#ffffff"/><rect x="497" y="586" width="3" height="3" fill="#1f5c36"/><rect x="498" y="587" width="1" height="1" fill="#2f7a4a"/><rect x="500" y="594" width="3" height="33" fill="#6b1d1a"/><rect x="501" y="595" width="1" height="31" fill="#7b818b"/><rect x="503" y="618" width="3" height="9" fill="#1f2433"/><rect x="504" y="619" width="1" height="7" fill="#ffffff"/><rect x="505" y="611" width="3" height="8" fill="#1f2433"/><rect x="506" y="612" width="1" height="6" fill="#ffffff"/><rect x="508" y="609" width="3" height="10" fill="#6b1d1a"/><rect x="509" y="610" width="1" height="8" fill="#7b818b"/><rect x="511" y="618" width="3" height="43" fill="#6b1d1a"/><rect x="512" y="619" width="1" height="41" fill="#7b818b"/><rect x="514" y="662" width="3" height="26" fill="#6b1d1a"/><rect x="515" y="663" width="1" height="24" fill="#7b818b"/><rect x="517" y="678" width="3" height="14" fill="#1f2433"/><rect x="518" y="679" width="1" height="12" fill="#ffffff"/><rect x="520" y="682" width="3" height="2" fill="#1f2433"/><rect x="522" y="683" width="3" height="9" fill="#6b1d1a"/><rect x="523" y="684" width="1" height="7" fill="#7b818b"/><rect x="525" y="692" width="3" height="5" fill="#6b1d1a"/><rect x="526" y="693" width="1" height="3" fill="#7b818b"/><rect x="528" y="696" width="3" height="21" fill="#6b1d1a"/><rect x="529" y="697" width="1" height="19" fill="#7b818b"/><rect x="531" y="697" width="3" height="4" fill="#1f2433"/><rect x="532" y="698" width="1" height="2" fill="#ffffff"/><rect x="534" y="698" width="3" height="7" fill="#6b1d1a"/><rect x="535" y="699" width="1" height="5" fill="#7b818b"/><rect x="536" y="695" width="3" height="12" fill="#1f2433"/><rect x="537" y="696" width="1" height="10" fill="#ffffff"/><rect x="539" y="690" width="3" height="9" fill="#6b1d1a"/><rect x="540" y="691" width="1" height="7" fill="#7b818b"/><rect x="542" y="696" width="3" height="6" fill="#6b1d1a"/><rect x="543" y="697" width="1" height="4" fill="#7b818b"/><rect x="545" y="702" width="3" height="5" fill="#6b1d1a"/><rect x="546" y="703" width="1" height="3" fill="#7b818b"/><rect x="548" y="696" width="3" height="13" fill="#1f2433"/><rect x="549" y="697" width="1" height="11" fill="#ffffff"/><rect x="551" y="697" width="3" height="14" fill="#6b1d1a"/><rect x="552" y="698" width="1" height="12" fill="#7b818b"/><rect x="553" y="702" width="3" height="10" fill="#1f2433"/><rect x="554" y="703" width="1" height="8" fill="#ffffff"/><rect x="556" y="691" width="3" height="12" fill="#1f2433"/><rect x="557" y="692" width="1" height="10" fill="#ffffff"/><rect x="559" y="665" width="3" height="12" fill="#1f2433"/><rect x="560" y="666" width="1" height="10" fill="#ffffff"/><rect x="562" y="647" width="3" height="15" fill="#1f2433"/><rect x="563" y="648" width="1" height="13" fill="#ffffff"/><rect x="565" y="643" width="3" height="8" fill="#1f2433"/><rect x="566" y="644" width="1" height="6" fill="#ffffff"/><rect x="567" y="626" width="3" height="13" fill="#1f2433"/><rect x="568" y="627" width="1" height="11" fill="#ffffff"/><rect x="570" y="609" width="3" height="11" fill="#1f2433"/><rect x="571" y="610" width="1" height="9" fill="#ffffff"/><rect x="573" y="600" width="3" height="10" fill="#1f2433"/><rect x="574" y="601" width="1" height="8" fill="#ffffff"/><rect x="576" y="594" width="3" height="19" fill="#6b1d1a"/><rect x="577" y="595" width="1" height="17" fill="#7b818b"/><rect x="579" y="603" width="3" height="14" fill="#1f2433"/><rect x="580" y="604" width="1" height="12" fill="#ffffff"/><rect x="582" y="600" width="3" height="24" fill="#6b1d1a"/><rect x="583" y="601" width="1" height="22" fill="#7b818b"/><rect x="584" y="617" width="3" height="2" fill="#6b1d1a"/><rect x="587" y="604" width="3" height="19" fill="#1f2433"/><rect x="588" y="605" width="1" height="17" fill="#ffffff"/><rect x="590" y="602" width="3" height="3" fill="#6b1d1a"/><rect x="591" y="603" width="1" height="1" fill="#7b818b"/><rect x="593" y="603" width="3" height="12" fill="#6b1d1a"/><rect x="594" y="604" width="1" height="10" fill="#7b818b"/><rect x="596" y="611" width="3" height="4" fill="#1f2433"/><rect x="597" y="612" width="1" height="2" fill="#ffffff"/><rect x="598" y="616" width="3" height="11" fill="#6b1d1a"/><rect x="599" y="617" width="1" height="9" fill="#7b818b"/><rect x="601" y="598" width="3" height="25" fill="#1f2433"/><rect x="602" y="599" width="1" height="23" fill="#ffffff"/><rect x="604" y="579" width="3" height="16" fill="#1f2433"/><rect x="605" y="580" width="1" height="14" fill="#ffffff"/><rect x="607" y="548" width="3" height="24" fill="#1f2433"/><rect x="608" y="549" width="1" height="22" fill="#ffffff"/><rect x="610" y="520" width="3" height="29" fill="#1f2433"/><rect x="611" y="521" width="1" height="27" fill="#ffffff"/><rect x="613" y="508" width="3" height="11" fill="#1f2433"/><rect x="614" y="509" width="1" height="9" fill="#ffffff"/><rect x="615" y="496" width="3" height="6" fill="#1f2433"/><rect x="616" y="497" width="1" height="4" fill="#ffffff"/><rect x="618" y="500" width="3" height="2" fill="#6b1d1a"/><rect x="621" y="463" width="3" height="32" fill="#1f2433"/><rect x="622" y="464" width="1" height="30" fill="#ffffff"/><rect x="624" y="459" width="3" height="6" fill="#6b1d1a"/><rect x="625" y="460" width="1" height="4" fill="#7b818b"/><rect x="627" y="463" width="3" height="2" fill="#6b1d1a"/><rect x="629" y="468" width="3" height="46" fill="#6b1d1a"/><rect x="630" y="469" width="1" height="44" fill="#7b818b"/><rect x="632" y="519" width="3" height="4" fill="#1f2433"/><rect x="633" y="520" width="1" height="2" fill="#ffffff"/><rect x="635" y="516" width="3" height="19" fill="#1f2433"/><rect x="636" y="517" width="1" height="17" fill="#ffffff"/><rect x="638" y="473" width="3" height="36" fill="#1f2433"/><rect x="639" y="474" width="1" height="34" fill="#ffffff"/><rect x="641" y="466" width="3" height="11" fill="#6b1d1a"/><rect x="642" y="467" width="1" height="9" fill="#7b818b"/><rect x="643" y="446" width="3" height="19" fill="#1f2433"/><rect x="644" y="447" width="1" height="17" fill="#ffffff"/><rect x="646" y="432" width="3" height="15" fill="#1f2433"/><rect x="647" y="433" width="1" height="13" fill="#ffffff"/><rect x="649" y="431" width="3" height="38" fill="#6b1d1a"/><rect x="650" y="432" width="1" height="36" fill="#7b818b"/><rect x="652" y="463" width="3" height="6" fill="#1f2433"/><rect x="653" y="464" width="1" height="4" fill="#ffffff"/><rect x="655" y="463" width="3" height="16" fill="#6b1d1a"/><rect x="656" y="464" width="1" height="14" fill="#7b818b"/><rect x="658" y="469" width="3" height="9" fill="#1f2433"/><rect x="659" y="470" width="1" height="7" fill="#ffffff"/><rect x="660" y="468" width="3" height="37" fill="#6b1d1a"/><rect x="661" y="469" width="1" height="35" fill="#7b818b"/><rect x="663" y="505" width="3" height="3" fill="#6b1d1a"/><rect x="664" y="506" width="1" height="1" fill="#7b818b"/><rect x="666" y="447" width="3" height="60" fill="#1f2433"/><rect x="667" y="448" width="1" height="58" fill="#ffffff"/><rect x="669" y="431" width="3" height="14" fill="#1f2433"/><rect x="670" y="432" width="1" height="12" fill="#ffffff"/><rect x="672" y="431" width="3" height="28" fill="#6b1d1a"/><rect x="673" y="432" width="1" height="26" fill="#7b818b"/><rect x="674" y="453" width="3" height="15" fill="#6b1d1a"/><rect x="675" y="454" width="1" height="13" fill="#7b818b"/><rect x="677" y="461" width="3" height="8" fill="#1f2433"/><rect x="678" y="462" width="1" height="6" fill="#ffffff"/><rect x="680" y="461" width="3" height="7" fill="#6b1d1a"/><rect x="681" y="462" width="1" height="5" fill="#7b818b"/><rect x="683" y="448" width="3" height="18" fill="#1f2433"/><rect x="684" y="449" width="1" height="16" fill="#ffffff"/><rect x="686" y="444" width="3" height="31" fill="#6b1d1a"/><rect x="687" y="445" width="1" height="29" fill="#7b818b"/><rect x="689" y="474" width="3" height="21" fill="#6b1d1a"/><rect x="690" y="475" width="1" height="19" fill="#7b818b"/><rect x="691" y="464" width="3" height="31" fill="#1f2433"/><rect x="692" y="465" width="1" height="29" fill="#ffffff"/><rect x="694" y="463" width="3" height="29" fill="#6b1d1a"/><rect x="695" y="464" width="1" height="27" fill="#7b818b"/><rect x="697" y="491" width="3" height="21" fill="#6b1d1a"/><rect x="698" y="492" width="1" height="19" fill="#7b818b"/><rect x="700" y="512" width="3" height="38" fill="#6b1d1a"/><rect x="701" y="513" width="1" height="36" fill="#7b818b"/><rect x="703" y="524" width="3" height="26" fill="#1f2433"/><rect x="704" y="525" width="1" height="24" fill="#ffffff"/><rect x="705" y="513" width="3" height="11" fill="#1f2433"/><rect x="706" y="514" width="1" height="9" fill="#ffffff"/><rect x="708" y="471" width="3" height="42" fill="#1f2433"/><rect x="709" y="472" width="1" height="40" fill="#ffffff"/><rect x="711" y="468" width="3" height="7" fill="#1f2433"/><rect x="712" y="469" width="1" height="5" fill="#ffffff"/><rect x="714" y="452" width="3" height="16" fill="#1f2433"/><rect x="715" y="453" width="1" height="14" fill="#ffffff"/><rect x="717" y="452" width="3" height="13" fill="#6b1d1a"/><rect x="718" y="453" width="1" height="11" fill="#7b818b"/><rect x="720" y="451" width="3" height="14" fill="#1f2433"/><rect x="721" y="452" width="1" height="12" fill="#ffffff"/><rect x="722" y="449" width="3" height="3" fill="#6b1d1a"/><rect x="723" y="450" width="1" height="1" fill="#7b818b"/><rect x="725" y="428" width="3" height="21" fill="#1f2433"/><rect x="726" y="429" width="1" height="19" fill="#ffffff"/><rect x="728" y="405" width="3" height="24" fill="#1f2433"/><rect x="729" y="406" width="1" height="22" fill="#ffffff"/><rect x="731" y="398" width="3" height="13" fill="#1f2433"/><rect x="732" y="399" width="1" height="11" fill="#ffffff"/><rect x="734" y="367" width="3" height="32" fill="#1f2433"/><rect x="735" y="368" width="1" height="30" fill="#ffffff"/><rect x="736" y="368" width="3" height="40" fill="#6b1d1a"/><rect x="737" y="369" width="1" height="38" fill="#7b818b"/><rect x="739" y="403" width="3" height="9" fill="#6b1d1a"/><rect x="740" y="404" width="1" height="7" fill="#7b818b"/><rect x="742" y="398" width="3" height="15" fill="#1f2433"/><rect x="743" y="399" width="1" height="13" fill="#ffffff"/><rect x="745" y="368" width="3" height="30" fill="#1f2433"/><rect x="746" y="369" width="1" height="28" fill="#ffffff"/><rect x="748" y="334" width="3" height="36" fill="#1f2433"/><rect x="749" y="335" width="1" height="34" fill="#ffffff"/><rect x="751" y="316" width="3" height="19" fill="#1f2433"/><rect x="752" y="317" width="1" height="17" fill="#ffffff"/><rect x="753" y="316" width="3" height="2" fill="#6b1d1a"/><rect x="756" y="290" width="3" height="27" fill="#1f2433"/><rect x="757" y="291" width="1" height="25" fill="#ffffff"/><rect x="759" y="250" width="3" height="40" fill="#1f2433"/><rect x="760" y="251" width="1" height="38" fill="#ffffff"/><rect x="762" y="240" width="3" height="6" fill="#1f2433"/><rect x="763" y="241" width="1" height="4" fill="#ffffff"/><rect x="765" y="234" width="3" height="5" fill="#1f2433"/><rect x="766" y="235" width="1" height="3" fill="#ffffff"/><rect x="767" y="234" width="3" height="85" fill="#6b1d1a"/><rect x="768" y="235" width="1" height="83" fill="#7b818b"/><rect x="770" y="316" width="3" height="26" fill="#6b1d1a"/><rect x="771" y="317" width="1" height="24" fill="#7b818b"/><rect x="773" y="307" width="3" height="38" fill="#1f2433"/><rect x="774" y="308" width="1" height="36" fill="#ffffff"/><rect x="776" y="283" width="3" height="22" fill="#1f2433"/><rect x="777" y="284" width="1" height="20" fill="#ffffff"/><rect x="779" y="233" width="3" height="50" fill="#1f2433"/><rect x="780" y="234" width="1" height="48" fill="#ffffff"/><rect x="782" y="233" width="3" height="31" fill="#6b1d1a"/><rect x="783" y="234" width="1" height="29" fill="#7b818b"/><rect x="784" y="210" width="3" height="52" fill="#1f2433"/><rect x="785" y="211" width="1" height="50" fill="#ffffff"/><rect x="787" y="177" width="3" height="36" fill="#1f2433"/><rect x="788" y="178" width="1" height="34" fill="#ffffff"/><rect x="790" y="174" width="3" height="13" fill="#6b1d1a"/><rect x="791" y="175" width="1" height="11" fill="#7b818b"/><rect x="793" y="179" width="3" height="21" fill="#6b1d1a"/><rect x="794" y="180" width="1" height="19" fill="#7b818b"/><rect x="796" y="148" width="3" height="52" fill="#1f2433"/><rect x="797" y="149" width="1" height="50" fill="#ffffff"/><rect x="798" y="129" width="3" height="18" fill="#1f2433"/><rect x="799" y="130" width="1" height="16" fill="#ffffff"/><rect x="801" y="129" width="3" height="35" fill="#6b1d1a"/><rect x="802" y="130" width="1" height="33" fill="#7b818b"/><rect x="804" y="163" width="3" height="23" fill="#6b1d1a"/><rect x="805" y="164" width="1" height="21" fill="#7b818b"/><rect x="807" y="187" width="3" height="106" fill="#6b1d1a"/><rect x="808" y="188" width="1" height="104" fill="#7b818b"/><rect x="810" y="296" width="3" height="9" fill="#6b1d1a"/><rect x="811" y="297" width="1" height="7" fill="#7b818b"/><rect x="813" y="303" width="3" height="2" fill="#6b1d1a"/><rect x="815" y="302" width="3" height="72" fill="#6b1d1a"/><rect x="816" y="303" width="1" height="70" fill="#7b818b"/><rect x="818" y="354" width="3" height="16" fill="#1f5c36"/><rect x="819" y="355" width="1" height="14" fill="#2f7a4a"/><rect x="821" y="353" width="3" height="18" fill="#1f2433"/><rect x="822" y="354" width="1" height="16" fill="#ffffff"/><rect x="824" y="355" width="3" height="16" fill="#6b1d1a"/><rect x="825" y="356" width="1" height="14" fill="#7b818b"/><rect x="827" y="370" width="3" height="32" fill="#6b1d1a"/><rect x="828" y="371" width="1" height="30" fill="#7b818b"/><rect x="829" y="403" width="3" height="34" fill="#6b1d1a"/><rect x="830" y="404" width="1" height="32" fill="#7b818b"/><rect x="832" y="435" width="3" height="76" fill="#6b1d1a"/><rect x="833" y="436" width="1" height="74" fill="#7b818b"/><rect x="835" y="508" width="3" height="13" fill="#6b1d1a"/><rect x="836" y="509" width="1" height="11" fill="#7b818b"/><rect x="838" y="513" width="3" height="7" fill="#1f2433"/><rect x="839" y="514" width="1" height="5" fill="#ffffff"/><rect x="841" y="505" width="3" height="9" fill="#1f2433"/><rect x="842" y="506" width="1" height="7" fill="#ffffff"/><rect x="844" y="450" width="3" height="56" fill="#1f2433"/><rect x="845" y="451" width="1" height="54" fill="#ffffff"/><rect x="846" y="390" width="3" height="60" fill="#1f2433"/><rect x="847" y="391" width="1" height="58" fill="#ffffff"/><rect x="849" y="370" width="3" height="20" fill="#1f2433"/><rect x="850" y="371" width="1" height="18" fill="#ffffff"/><rect x="852" y="366" width="3" height="13" fill="#6b1d1a"/><rect x="853" y="367" width="1" height="11" fill="#7b818b"/><rect x="855" y="352" width="3" height="38" fill="#1f2433"/><rect x="856" y="353" width="1" height="36" fill="#ffffff"/><rect x="858" y="353" width="3" height="58" fill="#6b1d1a"/><rect x="859" y="354" width="1" height="56" fill="#7b818b"/><rect x="860" y="410" width="3" height="2" fill="#6b1d1a"/><rect x="863" y="411" width="3" height="20" fill="#6b1d1a"/><rect x="864" y="412" width="1" height="18" fill="#7b818b"/><rect x="866" y="432" width="3" height="5" fill="#6b1d1a"/><rect x="867" y="433" width="1" height="3" fill="#7b818b"/><rect x="869" y="422" width="3" height="14" fill="#1f2433"/><rect x="870" y="423" width="1" height="12" fill="#ffffff"/><rect x="872" y="410" width="3" height="2" fill="#1f2433"/><rect x="875" y="411" width="3" height="17" fill="#6b1d1a"/><rect x="876" y="412" width="1" height="15" fill="#7b818b"/><rect x="877" y="421" width="3" height="11" fill="#6b1d1a"/><rect x="878" y="422" width="1" height="9" fill="#7b818b"/><rect x="880" y="431" width="3" height="2" fill="#1f2433"/><rect x="883" y="403" width="3" height="30" fill="#1f2433"/><rect x="884" y="404" width="1" height="28" fill="#ffffff"/><rect x="886" y="383" width="3" height="21" fill="#1f2433"/><rect x="887" y="384" width="1" height="19" fill="#ffffff"/><rect x="889" y="383" width="3" height="9" fill="#6b1d1a"/><rect x="890" y="384" width="1" height="7" fill="#7b818b"/><rect x="891" y="384" width="3" height="5" fill="#1f2433"/><rect x="892" y="385" width="1" height="3" fill="#ffffff"/><rect x="894" y="378" width="3" height="7" fill="#1f2433"/><rect x="895" y="379" width="1" height="5" fill="#ffffff"/><rect x="897" y="336" width="3" height="44" fill="#1f2433"/><rect x="898" y="337" width="1" height="42" fill="#ffffff"/><rect x="900" y="335" width="3" height="7" fill="#6b1d1a"/><rect x="901" y="336" width="1" height="5" fill="#7b818b"/><rect x="903" y="341" width="3" height="20" fill="#6b1d1a"/><rect x="904" y="342" width="1" height="18" fill="#7b818b"/><rect x="906" y="357" width="3" height="38" fill="#6b1d1a"/><rect x="907" y="358" width="1" height="36" fill="#7b818b"/><rect x="908" y="394" width="3" height="10" fill="#6b1d1a"/><rect x="909" y="395" width="1" height="8" fill="#7b818b"/><rect x="911" y="407" width="3" height="20" fill="#6b1d1a"/><rect x="912" y="408" width="1" height="18" fill="#7b818b"/><rect x="914" y="380" width="3" height="48" fill="#1f2433"/><rect x="915" y="381" width="1" height="46" fill="#ffffff"/><rect x="917" y="358" width="3" height="22" fill="#1f2433"/><rect x="918" y="359" width="1" height="20" fill="#ffffff"/><rect x="920" y="335" width="3" height="24" fill="#1f2433"/><rect x="921" y="336" width="1" height="22" fill="#ffffff"/><rect x="922" y="335" width="3" height="18" fill="#6b1d1a"/><rect x="923" y="336" width="1" height="16" fill="#7b818b"/><rect x="925" y="353" width="3" height="6" fill="#6b1d1a"/><rect x="926" y="354" width="1" height="4" fill="#7b818b"/><rect x="928" y="319" width="3" height="40" fill="#1f2433"/><rect x="929" y="320" width="1" height="38" fill="#ffffff"/><rect x="931" y="296" width="3" height="24" fill="#1f2433"/><rect x="932" y="297" width="1" height="22" fill="#ffffff"/><rect x="934" y="281" width="3" height="18" fill="#1f2433"/><rect x="935" y="282" width="1" height="16" fill="#ffffff"/><rect x="937" y="273" width="3" height="10" fill="#1f2433"/><rect x="938" y="274" width="1" height="8" fill="#ffffff"/><rect x="939" y="228" width="3" height="41" fill="#1f2433"/><rect x="940" y="229" width="1" height="39" fill="#ffffff"/><rect x="942" y="231" width="3" height="54" fill="#6b1d1a"/><rect x="943" y="232" width="1" height="52" fill="#7b818b"/><rect x="945" y="261" width="3" height="27" fill="#1f2433"/><rect x="946" y="262" width="1" height="25" fill="#ffffff"/><rect x="948" y="261" width="3" height="20" fill="#6b1d1a"/><rect x="949" y="262" width="1" height="18" fill="#7b818b"/><rect x="951" y="278" width="3" height="36" fill="#6b1d1a"/><rect x="952" y="279" width="1" height="34" fill="#7b818b"/><rect x="953" y="299" width="3" height="15" fill="#1f2433"/><rect x="954" y="300" width="1" height="13" fill="#ffffff"/><rect x="956" y="297" width="3" height="57" fill="#6b1d1a"/><rect x="957" y="298" width="1" height="55" fill="#7b818b"/><rect x="959" y="325" width="3" height="29" fill="#1f2433"/><rect x="960" y="326" width="1" height="27" fill="#ffffff"/><rect x="962" y="326" width="3" height="30" fill="#6b1d1a"/><rect x="963" y="327" width="1" height="28" fill="#7b818b"/><rect x="965" y="332" width="3" height="20" fill="#1f2433"/><rect x="966" y="333" width="1" height="18" fill="#ffffff"/><rect x="967" y="332" width="3" height="35" fill="#6b1d1a"/><rect x="968" y="333" width="1" height="33" fill="#7b818b"/><rect x="970" y="368" width="3" height="12" fill="#6b1d1a"/><rect x="971" y="369" width="1" height="10" fill="#7b818b"/><rect x="973" y="381" width="3" height="48" fill="#6b1d1a"/><rect x="974" y="382" width="1" height="46" fill="#7b818b"/><rect x="976" y="391" width="3" height="36" fill="#1f2433"/><rect x="977" y="392" width="1" height="34" fill="#ffffff"/><rect x="979" y="361" width="3" height="28" fill="#1f2433"/><rect x="980" y="362" width="1" height="26" fill="#ffffff"/><rect x="982" y="327" width="3" height="34" fill="#1f2433"/><rect x="983" y="328" width="1" height="32" fill="#ffffff"/><rect x="984" y="319" width="3" height="12" fill="#1f2433"/><rect x="985" y="320" width="1" height="10" fill="#ffffff"/><rect x="987" y="320" width="3" height="26" fill="#6b1d1a"/><rect x="988" y="321" width="1" height="24" fill="#7b818b"/><rect x="990" y="297" width="3" height="50" fill="#1f2433"/><rect x="991" y="298" width="1" height="48" fill="#ffffff"/><rect x="993" y="286" width="3" height="11" fill="#1f2433"/><rect x="994" y="287" width="1" height="9" fill="#ffffff"/><rect x="996" y="280" width="3" height="7" fill="#1f2433"/><rect x="997" y="281" width="1" height="5" fill="#ffffff"/><rect x="998" y="281" width="3" height="12" fill="#6b1d1a"/><rect x="999" y="282" width="1" height="10" fill="#7b818b"/><rect x="1001" y="293" width="3" height="30" fill="#6b1d1a"/><rect x="1002" y="294" width="1" height="28" fill="#7b818b"/><rect x="1004" y="298" width="3" height="25" fill="#1f2433"/><rect x="1005" y="299" width="1" height="23" fill="#ffffff"/><rect x="1007" y="256" width="3" height="42" fill="#1f2433"/><rect x="1008" y="257" width="1" height="40" fill="#ffffff"/><rect x="1010" y="253" width="3" height="19" fill="#6b1d1a"/><rect x="1011" y="254" width="1" height="17" fill="#7b818b"/><rect x="1013" y="252" width="3" height="22" fill="#1f2433"/><rect x="1014" y="253" width="1" height="20" fill="#ffffff"/><rect x="1015" y="252" width="3" height="2" fill="#1f2433"/><rect x="1018" y="233" width="3" height="19" fill="#1f2433"/><rect x="1019" y="234" width="1" height="17" fill="#ffffff"/><rect x="1021" y="225" width="3" height="8" fill="#1f2433"/><rect x="1022" y="226" width="1" height="6" fill="#ffffff"/><rect x="1024" y="224" width="3" height="13" fill="#6b1d1a"/><rect x="1025" y="225" width="1" height="11" fill="#7b818b"/><rect x="1027" y="237" width="3" height="4" fill="#6b1d1a"/><rect x="1028" y="238" width="1" height="2" fill="#7b818b"/><rect x="1029" y="240" width="3" height="34" fill="#6b1d1a"/><rect x="1030" y="241" width="1" height="32" fill="#7b818b"/><rect x="1032" y="239" width="3" height="32" fill="#1f2433"/><rect x="1033" y="240" width="1" height="30" fill="#ffffff"/><rect x="1035" y="232" width="3" height="9" fill="#1f2433"/><rect x="1036" y="233" width="1" height="7" fill="#ffffff"/><rect x="1038" y="242" width="3" height="9" fill="#6b1d1a"/><rect x="1039" y="243" width="1" height="7" fill="#7b818b"/><rect x="1041" y="232" width="3" height="20" fill="#1f2433"/><rect x="1042" y="233" width="1" height="18" fill="#ffffff"/><rect x="1044" y="234" width="3" height="2" fill="#1f2433"/><rect x="1046" y="234" width="3" height="14" fill="#6b1d1a"/><rect x="1047" y="235" width="1" height="12" fill="#7b818b"/><rect x="1049" y="248" width="3" height="10" fill="#6b1d1a"/><rect x="1050" y="249" width="1" height="8" fill="#7b818b"/><rect x="1052" y="257" width="3" height="26" fill="#6b1d1a"/><rect x="1053" y="258" width="1" height="24" fill="#7b818b"/><rect x="1055" y="274" width="3" height="11" fill="#1f2433"/><rect x="1056" y="275" width="1" height="9" fill="#ffffff"/><rect x="1058" y="276" width="3" height="13" fill="#6b1d1a"/><rect x="1059" y="277" width="1" height="11" fill="#7b818b"/><rect x="1060" y="290" width="3" height="46" fill="#6b1d1a"/><rect x="1061" y="291" width="1" height="44" fill="#7b818b"/><rect x="1063" y="334" width="3" height="7" fill="#6b1d1a"/><rect x="1064" y="335" width="1" height="5" fill="#7b818b"/><rect x="1066" y="348" width="3" height="9" fill="#6b1d1a"/><rect x="1067" y="349" width="1" height="7" fill="#7b818b"/><rect x="1069" y="360" width="3" height="50" fill="#6b1d1a"/><rect x="1070" y="361" width="1" height="48" fill="#7b818b"/><rect x="1072" y="409" width="3" height="25" fill="#6b1d1a"/><rect x="1073" y="410" width="1" height="23" fill="#7b818b"/><rect x="1075" y="434" width="3" height="26" fill="#6b1d1a"/><rect x="1076" y="435" width="1" height="24" fill="#7b818b"/><rect x="1077" y="459" width="3" height="12" fill="#6b1d1a"/><rect x="1078" y="460" width="1" height="10" fill="#7b818b"/><rect x="1080" y="469" width="3" height="20" fill="#6b1d1a"/><rect x="1081" y="470" width="1" height="18" fill="#7b818b"/><rect x="1083" y="488" width="3" height="60" fill="#6b1d1a"/><rect x="1084" y="489" width="1" height="58" fill="#7b818b"/><rect x="1086" y="501" width="3" height="47" fill="#1f2433"/><rect x="1087" y="502" width="1" height="45" fill="#ffffff"/><rect x="1089" y="479" width="3" height="21" fill="#1f2433"/><rect x="1090" y="480" width="1" height="19" fill="#ffffff"/><rect x="1091" y="483" width="3" height="9" fill="#6b1d1a"/><rect x="1092" y="484" width="1" height="7" fill="#7b818b"/><rect x="1094" y="446" width="3" height="47" fill="#1f2433"/><rect x="1095" y="447" width="1" height="45" fill="#ffffff"/><rect x="1097" y="437" width="3" height="10" fill="#1f2433"/><rect x="1098" y="438" width="1" height="8" fill="#ffffff"/><rect x="1100" y="426" width="3" height="12" fill="#1f2433"/><rect x="1101" y="427" width="1" height="10" fill="#ffffff"/><rect x="1103" y="372" width="3" height="54" fill="#1f2433"/><rect x="1104" y="373" width="1" height="52" fill="#ffffff"/><rect x="1106" y="370" width="3" height="18" fill="#6b1d1a"/><rect x="1107" y="371" width="1" height="16" fill="#7b818b"/><rect x="1108" y="389" width="3" height="19" fill="#6b1d1a"/><rect x="1109" y="390" width="1" height="17" fill="#7b818b"/><rect x="1111" y="410" width="3" height="10" fill="#6b1d1a"/><rect x="1112" y="411" width="1" height="8" fill="#7b818b"/><rect x="1114" y="414" width="3" height="11" fill="#1f2433"/><rect x="1115" y="415" width="1" height="9" fill="#ffffff"/><rect x="1117" y="389" width="3" height="25" fill="#1f2433"/><rect x="1118" y="390" width="1" height="23" fill="#ffffff"/><rect x="1120" y="391" width="3" height="40" fill="#6b1d1a"/><rect x="1121" y="392" width="1" height="38" fill="#7b818b"/><rect x="1122" y="400" width="3" height="36" fill="#1f2433"/><rect x="1123" y="401" width="1" height="34" fill="#ffffff"/><rect x="1125" y="390" width="3" height="14" fill="#1f2433"/><rect x="1126" y="391" width="1" height="12" fill="#ffffff"/><rect x="1128" y="391" width="3" height="8" fill="#6b1d1a"/><rect x="1129" y="392" width="1" height="6" fill="#7b818b"/><rect x="1131" y="398" width="3" height="56" fill="#6b1d1a"/><rect x="1132" y="399" width="1" height="54" fill="#7b818b"/><rect x="1134" y="452" width="3" height="5" fill="#1f2433"/><rect x="1135" y="453" width="1" height="3" fill="#ffffff"/><rect x="1137" y="452" width="3" height="2" fill="#1f2433"/><rect x="1139" y="452" width="3" height="2" fill="#6b1d1a"/><rect x="1142" y="452" width="3" height="2" fill="#1f2433"/><rect x="1145" y="413" width="3" height="41" fill="#1f2433"/><rect x="1146" y="414" width="1" height="39" fill="#ffffff"/><rect x="1148" y="415" width="3" height="36" fill="#6b1d1a"/><rect x="1149" y="416" width="1" height="34" fill="#7b818b"/><rect x="1151" y="448" width="3" height="2" fill="#1f2433"/><rect x="1153" y="431" width="3" height="20" fill="#1f2433"/><rect x="1154" y="432" width="1" height="18" fill="#ffffff"/><rect x="1156" y="432" width="3" height="11" fill="#6b1d1a"/><rect x="1157" y="433" width="1" height="9" fill="#7b818b"/><rect x="1159" y="421" width="3" height="24" fill="#1f2433"/><rect x="1160" y="422" width="1" height="22" fill="#ffffff"/><rect x="1162" y="401" width="3" height="64" fill="#6b1d1a"/><rect x="1163" y="402" width="1" height="62" fill="#7b818b"/><rect x="1165" y="472" width="3" height="7" fill="#1f2433"/><rect x="1166" y="473" width="1" height="5" fill="#ffffff"/><rect x="1168" y="464" width="3" height="9" fill="#1f2433"/><rect x="1169" y="465" width="1" height="7" fill="#ffffff"/><rect x="1170" y="462" width="3" height="36" fill="#6b1d1a"/><rect x="1171" y="463" width="1" height="34" fill="#7b818b"/><rect x="1173" y="499" width="3" height="6" fill="#1f2433"/><rect x="1174" y="500" width="1" height="4" fill="#ffffff"/><rect x="1176" y="473" width="3" height="11" fill="#1f5c36"/><rect x="1177" y="474" width="1" height="9" fill="#2f7a4a"/><rect x="1179" y="474" width="3" height="53" fill="#6b1d1a"/><rect x="1180" y="475" width="1" height="51" fill="#7b818b"/><rect x="1182" y="510" width="3" height="17" fill="#1f2433"/><rect x="1183" y="511" width="1" height="15" fill="#ffffff"/><rect x="1184" y="520" width="3" height="3" fill="#1f2433"/><rect x="1185" y="521" width="1" height="1" fill="#ffffff"/><rect x="1187" y="523" width="3" height="12" fill="#6b1d1a"/><rect x="1188" y="524" width="1" height="10" fill="#7b818b"/><rect x="1190" y="510" width="3" height="23" fill="#1f2433"/><rect x="1191" y="511" width="1" height="21" fill="#ffffff"/><rect x="1193" y="508" width="3" height="27" fill="#6b1d1a"/><rect x="1194" y="509" width="1" height="25" fill="#7b818b"/><rect x="1196" y="533" width="3" height="15" fill="#6b1d1a"/><rect x="1197" y="534" width="1" height="13" fill="#7b818b"/><rect x="1199" y="539" width="3" height="12" fill="#1f2433"/><rect x="1200" y="540" width="1" height="10" fill="#ffffff"/><rect x="1201" y="543" width="3" height="4" fill="#6b1d1a"/><rect x="1202" y="544" width="1" height="2" fill="#7b818b"/><rect x="1204" y="545" width="3" height="2" fill="#1f2433"/><rect x="1207" y="511" width="3" height="34" fill="#1f2433"/><rect x="1208" y="512" width="1" height="32" fill="#ffffff"/><rect x="1210" y="511" width="3" height="37" fill="#6b1d1a"/><rect x="1211" y="512" width="1" height="35" fill="#7b818b"/><rect x="1213" y="539" width="3" height="6" fill="#1f2433"/><rect x="1214" y="540" width="1" height="4" fill="#ffffff"/><rect x="1215" y="525" width="3" height="15" fill="#1f2433"/><rect x="1216" y="526" width="1" height="13" fill="#ffffff"/><rect x="1218" y="524" width="3" height="16" fill="#6b1d1a"/><rect x="1219" y="525" width="1" height="14" fill="#7b818b"/><rect x="1221" y="540" width="3" height="12" fill="#6b1d1a"/><rect x="1222" y="541" width="1" height="10" fill="#7b818b"/><rect x="1224" y="552" width="3" height="31" fill="#6b1d1a"/><rect x="1225" y="553" width="1" height="29" fill="#7b818b"/><rect x="1227" y="572" width="3" height="10" fill="#1f2433"/><rect x="1228" y="573" width="1" height="8" fill="#ffffff"/><rect x="1230" y="545" width="3" height="28" fill="#1f2433"/><rect x="1231" y="546" width="1" height="26" fill="#ffffff"/><rect x="1232" y="549" width="3" height="14" fill="#1f2433"/><rect x="1233" y="550" width="1" height="12" fill="#ffffff"/><rect x="1235" y="525" width="3" height="24" fill="#1f2433"/><rect x="1236" y="526" width="1" height="22" fill="#ffffff"/><rect x="1238" y="527" width="3" height="8" fill="#1f2433"/><rect x="1239" y="528" width="1" height="6" fill="#ffffff"/><rect x="1241" y="519" width="3" height="5" fill="#1f2433"/><rect x="1242" y="520" width="1" height="3" fill="#ffffff"/><rect x="1244" y="518" width="3" height="30" fill="#6b1d1a"/><rect x="1245" y="519" width="1" height="28" fill="#7b818b"/><rect x="1246" y="540" width="3" height="2" fill="#6b1d1a"/><rect x="1249" y="542" width="3" height="7" fill="#1f2433"/><rect x="1250" y="543" width="1" height="5" fill="#ffffff"/><rect x="1252" y="535" width="3" height="6" fill="#1f2433"/><rect x="1253" y="536" width="1" height="4" fill="#ffffff"/><rect x="1255" y="532" width="3" height="22" fill="#6b1d1a"/><rect x="1256" y="533" width="1" height="20" fill="#7b818b"/><rect x="1258" y="553" width="3" height="12" fill="#6b1d1a"/><rect x="1259" y="554" width="1" height="10" fill="#7b818b"/><rect x="1261" y="572" width="3" height="23" fill="#6b1d1a"/><rect x="1262" y="573" width="1" height="21" fill="#7b818b"/><rect x="1263" y="594" width="3" height="2" fill="#1f2433"/>
</g>
<line x1="472" y1="594.5" x2="1307" y2="594.5" stroke="#000" stroke-width="1.1"/>
<line x1="472" y1="631.4" x2="1307" y2="631.4" stroke="#000" stroke-width="1.3"/>
<line x1="122.5" y1="632.9" x2="619.5" y2="635.3" stroke="#000" stroke-width="2.2" stroke-linecap="round"/>
<rect x="1264" y="591" width="1" height="8" fill="#7b7b7b"/>
<rect x="1263" y="596" width="3" height="3" fill="#1f2433"/><rect x="1264" y="597" width="1" height="1" fill="#ffffff"/>
</g>
<rect x="1418" y="31" width="1" height="774" fill="#4a4a4a"/>
<rect x="12" y="775" width="1463" height="1" fill="#4a4a4a"/>
<defs><clipPath id="paxis"><rect x="1419" y="29" width="56" height="746"/></clipPath></defs>
<g clip-path="url(#paxis)" font-size="12" fill="#4a4a4a">
<text x="1429" y="39.2" textLength="31.5" lengthAdjust="spacingAndGlyphs">39.50</text>
<text x="1429" y="74.3" textLength="31.5" lengthAdjust="spacingAndGlyphs">39.00</text>
<text x="1429" y="109.4" textLength="31.5" lengthAdjust="spacingAndGlyphs">38.50</text>
<text x="1429" y="144.5" textLength="31.5" lengthAdjust="spacingAndGlyphs">38.00</text>
<text x="1429" y="179.5" textLength="31.5" lengthAdjust="spacingAndGlyphs">37.50</text>
<text x="1429" y="214.6" textLength="31.5" lengthAdjust="spacingAndGlyphs">37.00</text>
<text x="1429" y="249.7" textLength="31.5" lengthAdjust="spacingAndGlyphs">36.50</text>
<text x="1429" y="284.8" textLength="31.5" lengthAdjust="spacingAndGlyphs">36.00</text>
<text x="1429" y="319.9" textLength="31.5" lengthAdjust="spacingAndGlyphs">35.50</text>
<text x="1429" y="355.0" textLength="31.5" lengthAdjust="spacingAndGlyphs">35.00</text>
<text x="1429" y="390.1" textLength="31.5" lengthAdjust="spacingAndGlyphs">34.50</text>
<text x="1429" y="425.1" textLength="31.5" lengthAdjust="spacingAndGlyphs">34.00</text>
<text x="1429" y="460.2" textLength="31.5" lengthAdjust="spacingAndGlyphs">33.50</text>
<text x="1429" y="495.3" textLength="31.5" lengthAdjust="spacingAndGlyphs">33.00</text>
<text x="1429" y="530.4" textLength="31.5" lengthAdjust="spacingAndGlyphs">32.50</text>
<text x="1429" y="565.5" textLength="31.5" lengthAdjust="spacingAndGlyphs">32.00</text>
<text x="1429" y="600.6" textLength="31.5" lengthAdjust="spacingAndGlyphs">31.50</text>
<text x="1429" y="635.6" textLength="31.5" lengthAdjust="spacingAndGlyphs">31.00</text>
<text x="1429" y="670.7" textLength="31.5" lengthAdjust="spacingAndGlyphs">30.50</text>
<text x="1429" y="705.8" textLength="31.5" lengthAdjust="spacingAndGlyphs">30.00</text>
<text x="1429" y="740.9" textLength="31.5" lengthAdjust="spacingAndGlyphs">29.50</text>
<text x="1429" y="776.0" textLength="31.5" lengthAdjust="spacingAndGlyphs">29.00</text>
</g>
<rect x="1351" y="586" width="115" height="18.5" rx="2" fill="#5d606b"/>
<rect x="1418" y="586" width="1" height="18.5" fill="#4a4a4a"/>
<text x="1355" y="599.5" font-size="12" fill="#ffffff" textLength="58" lengthAdjust="spacingAndGlyphs">USDZ2025</text>
<text x="1429" y="599.5" font-size="12" fill="#ffffff" textLength="31.5" lengthAdjust="spacingAndGlyphs">31.52</text>
<text x="21.8" y="795" font-size="12.5" fill="#4a4a4a" text-anchor="middle" textLength="16.5" lengthAdjust="spacingAndGlyphs">Jul</text>
<text x="95.2" y="795" font-size="12.5" font-weight="bold" fill="#4a4a4a" text-anchor="middle" textLength="29.5" lengthAdjust="spacingAndGlyphs">2018</text>
<text x="168.5" y="795" font-size="12.5" fill="#4a4a4a" text-anchor="middle" textLength="16.5" lengthAdjust="spacingAndGlyphs">Jul</text>
<text x="241.7" y="795" font-size="12.5" font-weight="bold" fill="#4a4a4a" text-anchor="middle" textLength="29.5" lengthAdjust="spacingAndGlyphs">2019</text>
<text x="314.6" y="795" font-size="12.5" fill="#4a4a4a" text-anchor="middle" textLength="16.5" lengthAdjust="spacingAndGlyphs">Jul</text>
<text x="390.9" y="795" font-size="12.5" font-weight="bold" fill="#4a4a4a" text-anchor="middle" textLength="29.5" lengthAdjust="spacingAndGlyphs">2020</text>
<text x="463.7" y="795" font-size="12.5" fill="#4a4a4a" text-anchor="middle" textLength="16.5" lengthAdjust="spacingAndGlyphs">Jul</text>
<text x="537.0" y="795" font-size="12.5" font-weight="bold" fill="#4a4a4a" text-anchor="middle" textLength="29.5" lengthAdjust="spacingAndGlyphs">2021</text>
<text x="610.0" y="795" font-size="12.5" fill="#4a4a4a" text-anchor="middle" textLength="16.5" lengthAdjust="spacingAndGlyphs">Jul</text>
<text x="684.0" y="795" font-size="12.5" font-weight="bold" fill="#4a4a4a" text-anchor="middle" textLength="29.5" lengthAdjust="spacingAndGlyphs">2022</text>
<text x="757.0" y="795" font-size="12.5" fill="#4a4a4a" text-anchor="middle" textLength="16.5" lengthAdjust="spacingAndGlyphs">Jul</text>
<text x="830.0" y="795" font-size="12.5" font-weight="bold" fill="#4a4a4a" text-anchor="middle" textLength="29.5" lengthAdjust="spacingAndGlyphs">2023</text>
<text x="903.0" y="795" font-size="12.5" fill="#4a4a4a" text-anchor="middle" textLength="16.5" lengthAdjust="spacingAndGlyphs">Jul</text>
<text x="977.0" y="795" font-size="12.5" font-weight="bold" fill="#4a4a4a" text-anchor="middle" textLength="29.5" lengthAdjust="spacingAndGlyphs">2024</text>
<text x="1050.0" y="795" font-size="12.5" fill="#4a4a4a" text-anchor="middle" textLength="16.5" lengthAdjust="spacingAndGlyphs">Jul</text>
<text x="1126.4" y="795" font-size="12.5" font-weight="bold" fill="#4a4a4a" text-anchor="middle" textLength="29.5" lengthAdjust="spacingAndGlyphs">2025</text>
<text x="1199.3" y="795" font-size="12.5" fill="#4a4a4a" text-anchor="middle" textLength="16.5" lengthAdjust="spacingAndGlyphs">Jul</text>
<text x="1272.8" y="795" font-size="12.5" font-weight="bold" fill="#4a4a4a" text-anchor="middle" textLength="29.5" lengthAdjust="spacingAndGlyphs">2026</text>
<text x="1346.0" y="795" font-size="12.5" fill="#4a4a4a" text-anchor="middle" textLength="16.5" lengthAdjust="spacingAndGlyphs">Jul</text>
<g font-size="12.5">
<text x="19.9" y="50.8" font-size="12.5" fill="#505050" textLength="16.5" lengthAdjust="spacingAndGlyphs">US</text>
<text x="39.0" y="50.8" font-size="12.5" fill="#505050" textLength="37.8" lengthAdjust="spacingAndGlyphs">Dollar</text>
<text x="78.1" y="50.8" font-size="12.5" fill="#505050" textLength="44.0" lengthAdjust="spacingAndGlyphs">Futures</text>
<text x="127.4" y="50.8" font-size="12.5" fill="#505050" textLength="3.6" lengthAdjust="spacingAndGlyphs">·</text>
<text x="135.4" y="50.8" font-size="12.5" fill="#505050" textLength="18.2" lengthAdjust="spacingAndGlyphs">1W</text>
<text x="157.7" y="50.8" font-size="12.5" fill="#505050" textLength="3.9" lengthAdjust="spacingAndGlyphs">·</text>
<text x="166.1" y="50.8" font-size="12.5" fill="#505050" textLength="29.2" lengthAdjust="spacingAndGlyphs">TFEX</text>
<text x="202.9" y="51" fill="#505050">O</text>
<text x="212.3" y="51" fill="#6b1d1a" textLength="32.3" lengthAdjust="spacingAndGlyphs">31.49</text>
<text x="252.4" y="51" fill="#505050">H</text>
<text x="260.8" y="51" fill="#6b1d1a" textLength="32.2" lengthAdjust="spacingAndGlyphs">31.58</text>
<text x="301.8" y="51" fill="#505050">L</text>
<text x="307.9" y="51" fill="#6b1d1a" textLength="31.9" lengthAdjust="spacingAndGlyphs">31.46</text>
<text x="348.2" y="51" fill="#505050">C</text>
<text x="356.0" y="51" fill="#6b1d1a" textLength="32.6" lengthAdjust="spacingAndGlyphs">31.52</text>
<text x="397" y="51" fill="#6b1d1a" textLength="86.5" lengthAdjust="spacingAndGlyphs">−0.03 (−0.10%)</text>
</g>
<g fill="#131313">
<path d="M13.25 831.1 H26 V846.6 H20.1 V836.7 H13.25 Z"/>
<circle cx="31.8" cy="833.9" r="3.05"/>
<path d="M38.7 831.1 H45.7 L39.7 846.6 H32.2 Z"/>
<text x="54" y="847" font-size="22.4" font-weight="bold" stroke="#131313" stroke-width="0.25" textLength="132" lengthAdjust="spacingAndGlyphs">TradingView</text>
</g>
</svg></body></html>
